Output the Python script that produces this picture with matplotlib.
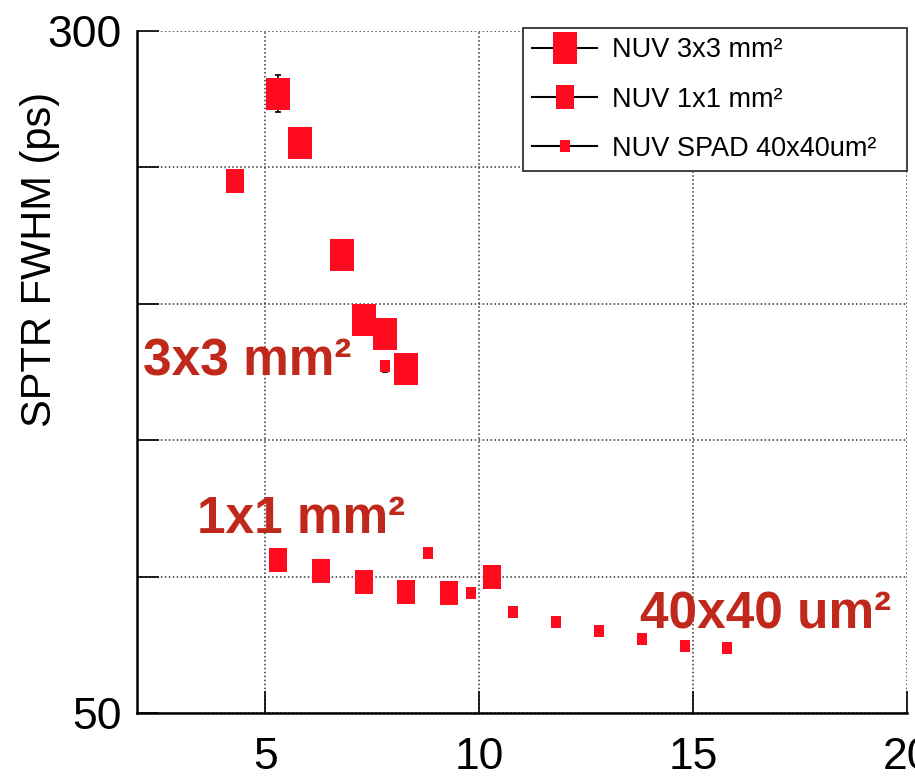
import matplotlib.pyplot as plt
import numpy as np
from matplotlib.lines import Line2D

plt.rcParams['font.family'] = ['Liberation Sans', 'DejaVu Sans']

# overvoltage (V) vs SPTR FWHM (ps)
x_3x3 = [5.3, 5.8, 6.8, 7.3, 7.8, 8.3]
y_3x3 = [277, 259, 218, 194, 189, 176]
err_3x3 = [6.6, 0, 0, 0, 0, 0]

x_1x1 = [4.3, 5.3, 6.3, 7.3, 8.3, 9.3, 10.3]
y_1x1 = [245, 106, 102, 98, 94.5, 94, 100]

x_spad = [7.8, 8.8, 9.8, 10.8, 11.8, 12.8, 13.8, 14.8, 15.8]
y_spad = [177, 108.5, 94, 87, 83.5, 80, 77.2, 74.5, 73.8]
err_spad = [2, 0, 0, 0, 0, 0, 0, 0, 0]

labels = ['NUV 3x3 mm²', 'NUV 1x1 mm²', 'NUV SPAD 40x40um²']
red = '#ff0a1e'
dark_red = '#c0281c'

# rectangular marker, a bit taller than wide
rect = [(-0.38, -0.5), (0.38, -0.5), (0.38, 0.5), (-0.38, 0.5), (-0.38, -0.5)]
sizes = [22.5, 16.8, 8.8]

fig = plt.figure(figsize=(9.15, 7.78), dpi=100)
ax = fig.add_axes([0.1497, 0.0835, 0.8416, 0.877])

series = [(x_3x3, y_3x3, err_3x3), (x_1x1, y_1x1, None), (x_spad, y_spad, err_spad)]
for (xs, ys, err), ms in zip(series, sizes):
    if err is not None:
        xe = [a for a, e in zip(xs, err) if e > 0]
        ye = [b for b, e in zip(ys, err) if e > 0]
        ee = [e for e in err if e > 0]
        ax.errorbar(xe, ye, yerr=ee, fmt='none', ecolor='black', elinewidth=1.2,
                    capsize=2.5, capthick=1.2, zorder=2)
    ax.plot(xs, ys, linestyle='none', marker=rect, markersize=ms, color=red,
            markeredgewidth=0, zorder=3)

ax.set_xlim(2, 20)
ax.set_ylim(50, 300)
ax.set_xticks([5, 10, 15, 20])
ax.set_yticks([50, 100, 150, 200, 250, 300])
ax.set_yticklabels(['50', '', '', '', '', '300'])
ax.tick_params(axis='both', direction='in', length=15.5, width=1.2, labelsize=32)
ax.tick_params(axis='y', pad=11)
ax.tick_params(axis='x', pad=17)
ax.grid(True, linestyle=(0, (1, 1.6)), color='#333333', linewidth=1.1)

for s in ['top', 'right']:
    ax.spines[s].set_visible(False)
for s in ['left', 'bottom']:
    ax.spines[s].set_linewidth(1.8)

ax.set_ylabel('SPTR FWHM (ps)', fontsize=30, va='center')
ax.yaxis.set_label_coords(-0.126, 0.665)

ax.text(2.15, 178.5, '3x3 mm²', fontsize=37, fontweight='bold', color=dark_red,
        va='center', ha='left')
ax.text(3.4, 121, '1x1 mm²', fontsize=37, fontweight='bold', color=dark_red,
        va='center', ha='left')
ax.text(13.75, 86, '40x40 um²', fontsize=37, fontweight='bold', color=dark_red,
        va='center', ha='left')

handles = [Line2D([0], [0], color='black', linewidth=1.5, marker=rect, markersize=ms,
                  markerfacecolor=red, markeredgewidth=0) for ms in sizes]
leg = ax.legend(handles, labels, loc='upper left', bbox_to_anchor=(0.501, 0.79, 0.499, 0.214),
                mode='expand', fontsize=19.5, handlelength=2.4, labelspacing=0.85,
                borderaxespad=0, fancybox=False, framealpha=1, handletextpad=0.55,
                borderpad=0.35)
leg.get_frame().set_edgecolor('#333333')
leg.get_frame().set_linewidth(1.3)

fig.savefig('out.png', dpi=100)
